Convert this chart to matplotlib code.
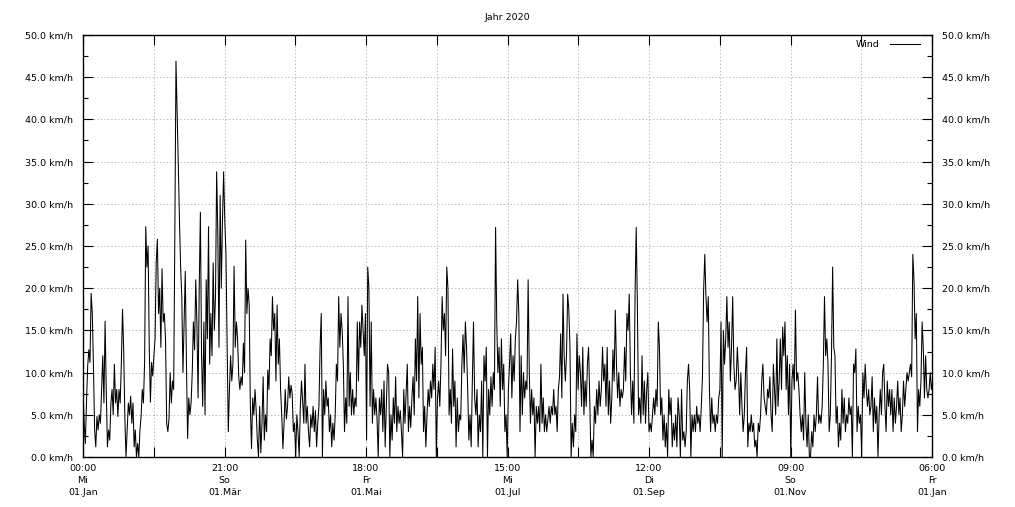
import numpy as np
import matplotlib.pyplot as plt
from matplotlib.ticker import FixedLocator, MultipleLocator

# Wind speed 2020 in km/h, one reading every 12 hours, per month
jan = [7.9, 4.0, 1.6, 6.4, 10.7, 12.7, 11.2, 19.4, 17.0, 10.7, 3.2, 1.2, 4.8, 3.2, 5.0, 4.0,
       8.0, 12.0, 6.4, 16.1, 8.0, 1.2, 3.2, 2.0, 6.4, 8.0, 5.0, 11.0, 6.4, 8.0, 4.8, 8.0,
       6.4, 11.2, 17.5, 12.7, 4.8, 0.0, 3.2, 6.4, 5.0, 7.2, 4.0, 6.4, 1.2, 3.2, 0.0, 1.6,
       0.0, 3.2, 4.8, 8.0, 6.4, 11.2, 27.3, 22.5, 25.0, 13.0, 6.5, 11.2, 9.6, 12.0]
feb = [14.0, 23.0, 25.8, 17.0, 20.0, 13.0, 22.3, 16.0, 17.0, 14.0, 4.0, 3.0, 4.5, 10.0, 6.4,
       9.0, 8.0, 26.0, 46.9, 41.0, 34.6, 28.0, 22.5, 19.0, 10.0, 16.0, 22.0, 11.0, 2.2, 7.0,
       5.0, 6.4, 10.0, 16.0, 12.7, 21.0, 16.0, 7.0, 20.0, 29.0, 12.0, 6.0, 16.0, 5.0, 21.0,
       14.0, 27.3, 11.0, 17.0, 12.0, 23.0, 15.0, 19.0, 33.8, 26.5, 13.0, 31.0, 20.0]
mar = [28.0, 33.8, 28.0, 24.0, 13.0, 3.0, 8.0, 12.0, 9.0, 11.0, 22.6, 13.0, 16.0, 14.0, 9.5,
       8.0, 9.5, 8.5, 13.5, 10.0, 25.7, 17.0, 20.0, 18.0, 6.0, 1.0, 7.0, 5.0, 8.0, 5.5, 2.0,
       0.0, 6.0, 0.5, 4.0, 9.5, 2.0, 5.0, 3.0, 10.3, 8.0, 14.0, 12.0, 19.0, 15.0, 17.0, 9.0,
       18.0, 11.0, 14.0, 8.0, 5.0, 1.0, 4.0, 8.0, 4.5, 6.0, 9.5, 7.0, 8.5, 7.5, 3.0]
apr = [4.0, 0.0, 5.0, 3.0, 0.0, 6.0, 9.0, 6.5, 4.0, 11.0, 4.0, 6.0, 3.0, 1.2, 5.0, 3.5,
       6.0, 3.0, 5.5, 1.2, 4.0, 6.0, 13.0, 17.0, 0.0, 8.0, 5.0, 9.0, 6.0, 7.0, 3.0, 5.0,
       1.2, 4.0, 2.0, 5.0, 11.0, 9.0, 19.0, 13.0, 17.0, 15.0, 11.0, 3.0, 7.0, 4.0, 19.0,
       6.0, 10.0, 5.0, 8.0, 5.0, 7.0, 6.0, 16.0, 9.0, 16.0, 13.0, 18.0, 15.0]
may = [12.0, 17.0, 2.0, 22.5, 20.0, 6.0, 16.0, 4.0, 8.0, 5.0, 7.0, 4.5, 0.0, 7.0, 5.0, 8.0,
       3.0, 9.0, 1.2, 6.0, 11.0, 10.0, 0.0, 5.0, 2.0, 7.0, 4.0, 9.5, 3.0, 6.0, 4.0, 5.5,
       3.0, 0.0, 8.0, 4.0, 7.5, 11.0, 3.0, 6.0, 3.5, 7.0, 9.5, 5.0, 14.0, 9.0, 19.0, 7.0,
       17.0, 11.0, 13.0, 3.0, 6.0, 1.2, 5.0, 8.0, 6.0, 9.0, 7.0, 11.0, 8.0, 13.0]
jun = [0.0, 7.0, 9.0, 6.0, 11.0, 19.0, 15.0, 17.0, 12.0, 22.5, 20.0, 5.0, 8.0, 4.0, 12.8,
       6.0, 9.0, 1.2, 7.0, 3.0, 5.0, 4.4, 11.0, 14.5, 10.0, 16.0, 13.0, 8.0, 2.0, 5.0,
       1.2, 9.0, 16.0, 7.0, 5.0, 8.0, 1.2, 5.0, 3.0, 9.0, 0.0, 12.0, 9.0, 13.0, 0.0,
       8.0, 5.0, 9.5, 6.0, 10.0, 8.0, 27.2, 16.0, 10.0, 13.0, 6.0, 14.0, 8.0, 11.0, 3.0]
jul = [5.0, 0.0, 8.0, 11.0, 14.6, 7.0, 12.0, 9.0, 14.0, 16.0, 21.0, 17.0, 3.0, 12.0, 5.0,
       10.0, 7.0, 9.0, 8.0, 21.0, 10.0, 4.0, 8.0, 5.0, 7.0, 0.0, 6.0, 4.0, 6.0, 3.0, 11.0,
       4.0, 7.0, 3.0, 5.0, 3.0, 4.5, 6.0, 4.0, 6.0, 5.0, 8.0, 5.0, 6.0, 3.0, 8.0, 9.5,
       14.6, 7.0, 19.3, 12.0, 9.0, 12.0, 19.3, 17.5, 13.0, 0.0, 4.0, 1.2, 5.0, 3.0, 14.6]
aug = [8.0, 12.0, 10.0, 6.0, 13.0, 5.0, 9.0, 6.0, 11.0, 13.0, 7.0, 0.0, 2.0, 0.0, 6.0,
       4.0, 8.0, 5.0, 9.0, 6.0, 8.0, 13.0, 9.0, 11.0, 6.0, 13.0, 5.0, 9.0, 4.0, 7.0, 12.7,
       9.0, 17.4, 11.0, 7.0, 10.0, 6.0, 8.0, 7.0, 8.0, 13.0, 9.0, 17.0, 15.0, 19.3, 10.0,
       5.0, 9.0, 4.0, 19.3, 27.2, 18.0, 5.0, 7.0, 4.0, 12.0, 5.0, 9.0, 4.0, 8.0, 10.0, 3.0]
sep = [4.0, 3.0, 5.0, 7.0, 5.0, 8.0, 6.0, 16.0, 13.0, 5.0, 7.0, 2.0, 5.0, 1.2, 4.0, 0.0,
       8.0, 5.0, 7.0, 1.2, 4.0, 2.0, 5.0, 1.2, 7.0, 5.0, 0.0, 8.0, 2.0, 3.0, 1.2, 3.0,
       9.0, 11.0, 8.0, 0.0, 5.0, 3.0, 5.0, 3.0, 6.0, 4.0, 5.0, 3.0, 6.0, 9.5, 19.7, 24.0,
       19.0, 16.0, 19.0, 8.0, 3.0, 7.0, 4.0, 5.0, 3.0, 5.0, 4.0, 7.0]
oct_ = [8.0, 16.0, 0.0, 15.0, 11.0, 14.0, 19.0, 13.0, 16.0, 9.0, 13.0, 19.0, 11.0, 8.0,
        9.0, 13.0, 10.0, 5.0, 10.0, 6.0, 3.0, 5.0, 10.0, 13.0, 1.2, 4.0, 3.0, 5.0, 3.0,
        4.0, 1.2, 2.0, 0.0, 4.0, 3.0, 5.0, 9.0, 11.0, 7.0, 6.0, 5.0, 8.0, 7.0, 9.5, 5.0,
        3.0, 11.0, 8.0, 5.0, 14.0, 6.0, 9.0, 14.0, 8.0, 15.4, 12.0, 16.0, 8.0, 12.0, 5.0,
        11.0, 0.0]
nov = [9.0, 11.0, 8.0, 17.4, 9.0, 10.0, 8.0, 5.0, 3.0, 5.0, 2.0, 10.0, 4.0, 1.2, 5.0, 0.0,
       0.0, 3.0, 1.2, 5.0, 3.0, 5.0, 9.5, 4.0, 5.0, 4.0, 6.0, 11.0, 19.0, 12.0, 14.0, 11.0,
       3.0, 5.0, 12.0, 22.5, 13.0, 12.0, 4.0, 6.0, 1.2, 4.0, 2.0, 8.0, 4.0, 7.0, 3.0, 5.0,
       4.0, 7.0, 5.0, 6.0, 0.0, 11.0, 10.0, 12.8, 3.0, 6.0, 4.0, 5.0]
dec = [0.0, 10.0, 7.0, 11.0, 8.0, 6.0, 8.0, 5.0, 6.0, 9.5, 3.0, 7.0, 4.0, 6.0, 0.0, 5.0,
       8.0, 5.0, 10.0, 11.0, 6.0, 3.0, 9.0, 6.0, 8.0, 5.0, 8.0, 3.0, 7.0, 4.0, 6.0, 9.0,
       5.0, 7.0, 3.0, 5.0, 9.0, 6.0, 8.0, 10.0, 9.0, 10.0, 11.0, 9.5, 24.0, 21.0, 14.0,
       17.0, 3.0, 8.0, 6.0, 9.0, 16.0, 13.0, 7.0, 12.0, 8.0, 7.0, 8.0, 10.0, 8.0, 9.0]

wind = jan + feb + mar + apr + may + jun + jul + aug + sep + oct_ + nov + dec
step_days = 0.5

tick_labels = ["00:00\nMi\n01.Jan", "21:00\nSo\n01.Mär", "18:00\nFr\n01.Mai",
               "15:00\nMi\n01.Jul", "12:00\nDi\n01.Sep", "09:00\nSo\n01.Nov",
               "06:00\nFr\n01.Jan"]
tick_step = 30.4375
y_max = 50

fs = 6.8
plt.rcParams['font.family'] = ['DejaVu Sans']

fig = plt.figure(figsize=(10.15, 5.07), dpi=100)
ax = fig.add_axes([83 / 1015, 50 / 507, 849 / 1015, 422 / 507])

t = np.arange(len(wind)) * step_days
ax.plot(t, wind, color="black", lw=0.75, label="Wind")

x_end = tick_step * 12
ax.set_xlim(0, x_end)
ax.set_ylim(0, y_max)

xt = np.arange(13) * tick_step
ax.xaxis.set_major_locator(FixedLocator(xt))
labels = []
for i in range(13):
    labels.append(tick_labels[i // 2] if i % 2 == 0 else "")
ax.set_xticklabels(labels, fontsize=fs, linespacing=1.45)

ax.yaxis.set_major_locator(MultipleLocator(5))
ax.yaxis.set_minor_locator(MultipleLocator(2.5))
ax.yaxis.set_major_formatter(lambda v, p: f"{v:.1f} km/h")

ax.tick_params(axis="x", direction="in", length=7, width=0.8, top=True, pad=5)
ax.tick_params(axis="y", which="major", direction="in", length=7, width=0.8,
               right=True, labelright=True, labelsize=fs, pad=7)
ax.tick_params(axis="y", which="minor", direction="in", length=3.5, width=0.8, right=True)

ax.grid(True, color="#a0a0a0", lw=0.5, linestyle=(0, (2, 3)))
for s in ax.spines.values():
    s.set_linewidth(1.0)

ax.set_title("Jahr 2020", fontsize=fs, pad=11)
ax.legend(loc="upper right", frameon=False, markerfirst=False, fontsize=fs,
          handlelength=3.2, handletextpad=1.1, bbox_to_anchor=(0.996, 1.008))

fig.savefig("out.png", dpi=100)
